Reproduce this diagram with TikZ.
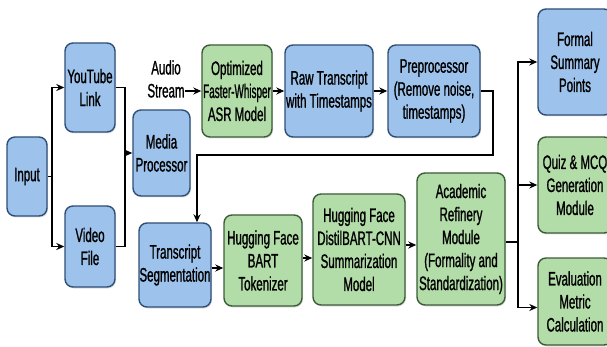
\documentclass[tikz,border=0pt]{standalone}
\usepackage{fontspec}
\setmainfont{Liberation Sans}[FakeStretch=0.59, FakeBold=1]
\usetikzlibrary{arrows.meta,shadows}
\definecolor{bluefill}{HTML}{9DC3EC}
\definecolor{blueline}{HTML}{2F4E76}
\definecolor{grnfill}{HTML}{B2DCA8}
\definecolor{grnline}{HTML}{3C5C38}
\tikzset{
  box/.style={rectangle, rounded corners=8pt, line width=1.4pt, align=center, inner sep=0pt,
    font=\fontsize{19.5}{23}\selectfont,
    drop shadow={shadow xshift=1pt, shadow yshift=-1.5pt, opacity=0.25}},
  blubox/.style={box, draw=blueline, fill=bluefill},
  grnbox/.style={box, draw=grnline, fill=grnfill},
  flow/.style={line width=1.5pt, -{Stealth[length=8pt,width=7pt]}},
  link/.style={line width=1.5pt}
}
\begin{document}
\begin{tikzpicture}[x=1pt, y=-1pt]
\useasboundingbox (0,0) rectangle (607,347);
% first row
\node[blubox, minimum width=40pt, minimum height=79pt] (inp) at (27,176.5){Input};
\node[blubox, minimum width=50pt, minimum height=89pt] (yt) at (90,87.5){YouTube\\Link};
\node[blubox, minimum width=50pt, minimum height=81pt] (vid) at (90,246.5){Video\\File};
\node[blubox, minimum width=57pt, minimum height=86pt] (media) at (161.5,153){Media\\Processor};
\node[align=center, inner sep=0pt, font=\fontsize{19.5}{23}\selectfont] (audio) at (166,79){Audio\\Stream};
\node[grnbox, minimum width=70pt, minimum height=92pt] (asr) at (237,91){Optimized\\\scalebox{0.86}[1]{Faster-Whisper}\\ASR Model};
\node[blubox, minimum width=88pt, minimum height=92pt] (raw) at (329,91){Raw Transcript\\with Timestamps};
\node[blubox, minimum width=92pt, minimum height=92pt] (pre) at (434,91){Preprocessor\\(Remove noise,\\timestamps)};
% second row
\node[blubox, minimum width=72pt, minimum height=84pt] (seg) at (175,265){Transcript\\Segmentation};
\node[grnbox, minimum width=78pt, minimum height=91pt] (bart) at (263,260.5){Hugging Face\\BART\\Tokenizer};
\node[grnbox, minimum width=92pt, minimum height=111pt] (distil) at (359,249.5){Hugging Face\\DistilBART-CNN\\Summarization\\Model};
\node[grnbox, minimum width=88pt, minimum height=132pt] (acad) at (461,239){Academic\\Refinery\\Module\\(Formality and\\Standardization)};
% outputs
\node[blubox, minimum width=74pt, minimum height=106pt] (formal) at (575,62){Formal\\Summary\\Points};
\node[grnbox, minimum width=74pt, minimum height=96pt] (quiz) at (575,185){Quiz \& MCQ\\Generation\\Module};
\node[grnbox, minimum width=74pt, minimum height=87pt] (eval) at (575,301.5){Evaluation\\Metric\\Calculation};
% junctions
\coordinate (jin) at (52,176.5);
\coordinate (jmedia) at (125,153);
\coordinate (jpre) at (493,155);
\coordinate (jseg) at (197,155);
\coordinate (jout) at (518,242);
% connectors
\draw[link](inp.east) -- (jin);
\draw[flow](jin) |- (yt.west);
\draw[flow](jin) |- (vid.west);
\draw[link](yt.east) -| (jmedia);
\draw[link](vid.east) -| (jmedia);
\draw[flow](jmedia) -- (media.west);
\draw[flow](audio.east |- asr.west) -- (asr.west);
\draw[flow](asr) -- (raw);
\draw[flow](raw) -- (pre);
\draw[flow](pre.east) -| (jpre) -- (jseg) -- (jseg |- seg.north);
\draw[flow](seg.east |- 0,268) -- (bart.west |- 0,268);
\draw[flow](bart.east |- 0,258) -- (distil.west |- 0,258);
\draw[flow](distil.east |- 0,245) -- (acad.west |- 0,245);
\draw[link](acad.east |- jout) -- (jout);
\draw[flow](jout) |- (formal.west);
\draw[flow](jout) |- (quiz.west);
\draw[flow](jout) |- ([yshift=-6pt]eval.west);
\end{tikzpicture}
\end{document}
